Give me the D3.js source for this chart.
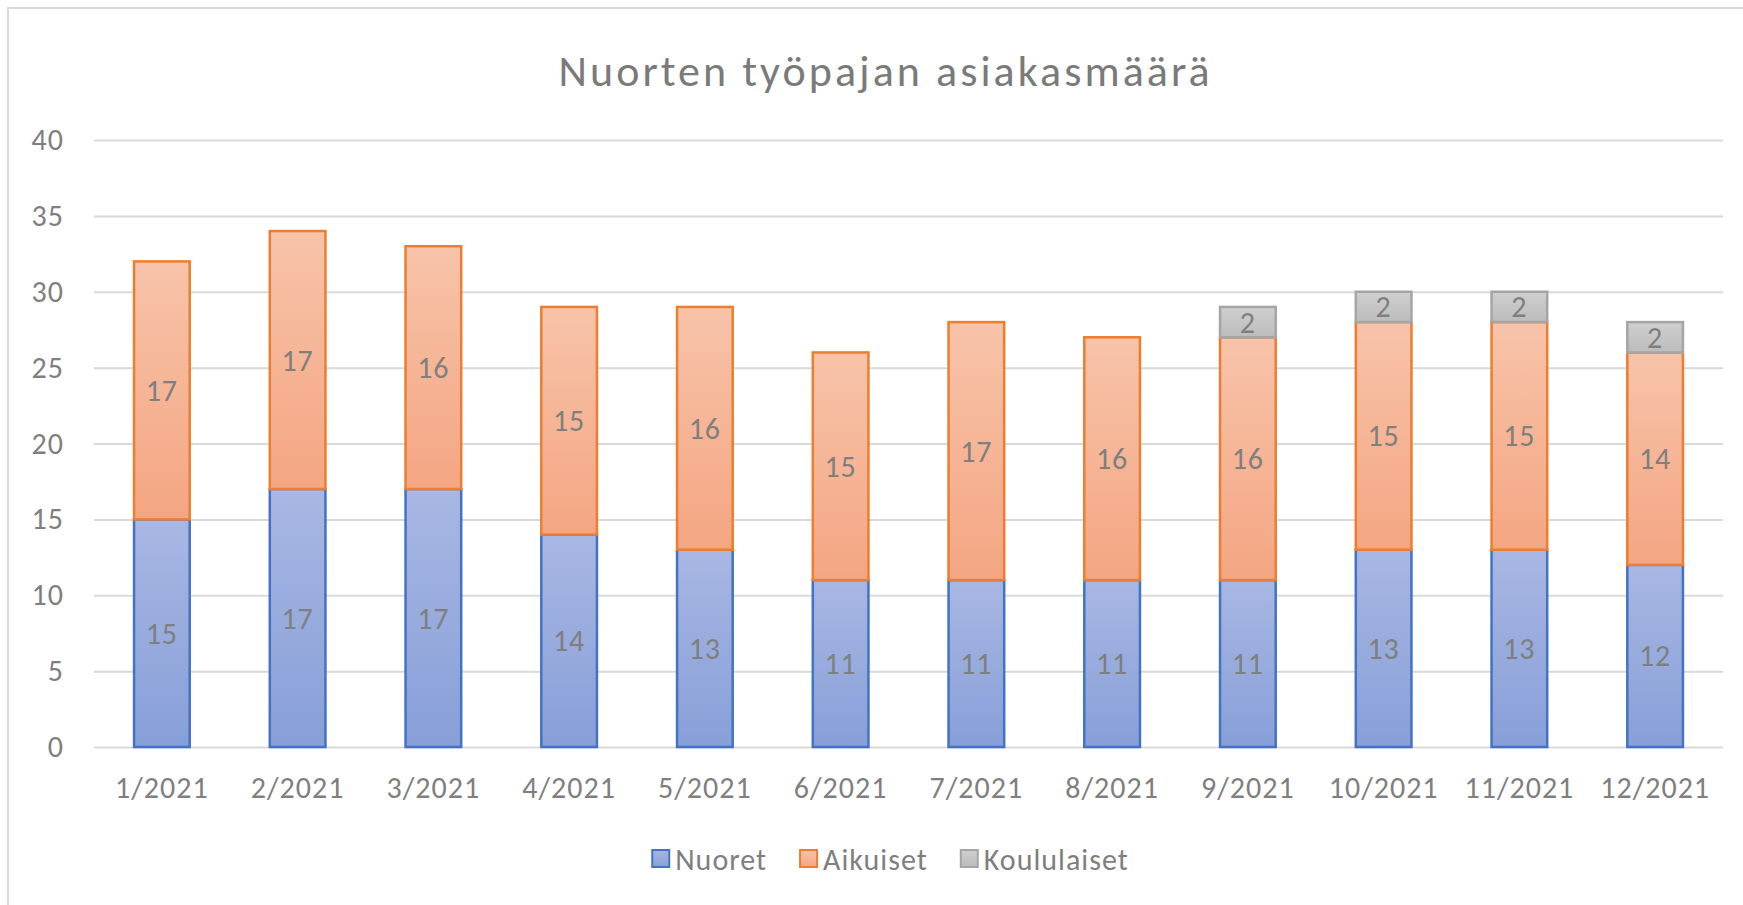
<!DOCTYPE html>
<html>
<head>
<meta charset="utf-8">
<script src="https://d3js.org/d3.v7.min.js"></script>
<style>
  body { margin: 0; background: #fff; }
  svg text { font-family: Calibri, Carlito, Lato, sans-serif; fill: #7f7f7f; }
</style>
</head>
<body>
<div id="chart"></div>
<script>
var months = ["1/2021", "2/2021", "3/2021", "4/2021", "5/2021", "6/2021",
              "7/2021", "8/2021", "9/2021", "10/2021", "11/2021", "12/2021"]
var nuoret = [15, 17, 17, 14, 13, 11, 11, 11, 11, 13, 13, 12]
var aikuiset = [17, 17, 16, 15, 16, 15, 17, 16, 16, 15, 15, 14]
var koululaiset = [0, 0, 0, 0, 0, 0, 0, 0, 2, 2, 2, 2]
var seriesNames = ["Nuoret", "Aikuiset", "Koululaiset"]
var yTicks = [0, 5, 10, 15, 20, 25, 30, 35, 40]
var title = "Nuorten työpajan asiakasmäärä"

var width = 1743, height = 905
// plot area edges (named so they do not clash with window.top)
var plotL = 94, plotR = 1723, plotT = 140, plotB = 747
var fontSize = "30px", spacing = "1px"

var styles = [
  { stroke: "#4472c4", top: "#a9b7e3", bot: "#879fd8" },
  { stroke: "#ed7d31", top: "#f7c3a9", bot: "#f4a682" },
  { stroke: "#a5a5a5", top: "#cfcfcf", bot: "#bcbcbc" }
]

var svg = d3.select("#chart").append("svg")
  .attr("width", width)
  .attr("height", height)

// gradients
var defs = svg.append("defs")
styles.forEach(function(s, i) {
  var g = defs.append("linearGradient")
    .attr("id", "grad" + i)
    .attr("x1", 0).attr("y1", 0).attr("x2", 0).attr("y2", 1)
  g.append("stop").attr("offset", "0%").attr("stop-color", s.top)
  g.append("stop").attr("offset", "100%").attr("stop-color", s.bot)
})

// chart frame (right and bottom run off the picture)
svg.append("path")
  .attr("d", "M8,940 L8,8 L1760,8")
  .attr("fill", "none")
  .attr("stroke", "#d9d9d9")
  .attr("stroke-width", 2)

var x = d3.scaleBand().domain(months).range([plotL, plotR]).paddingInner(0.59).paddingOuter(0.295)
var y = d3.scaleLinear().domain([0, 40]).range([plotB, plotT])

// title
var t = svg.append("text")
  .attr("x", 884)
  .attr("y", 86)
  .attr("text-anchor", "middle")
  .style("font-size", "44px")
  .style("fill", "#7a7a7a")
  .text(title)
var tw = t.node().getComputedTextLength()
var ls = Math.max(0, (651 - tw) / (title.length - 1))
t.style("letter-spacing", ls + "px").attr("x", 884 + ls / 2)

// y axis with gridlines
var yAxis = svg.append("g")
  .attr("transform", "translate(" + plotL + ",0)")
  .call(d3.axisLeft(y).tickValues(yTicks).tickSize(-(plotR - plotL)).tickPadding(30))
yAxis.select(".domain").remove()
yAxis.selectAll("line").attr("stroke", "#d9d9d9").attr("stroke-width", 2)
yAxis.selectAll("text").style("font-size", fontSize).style("letter-spacing", spacing).attr("fill", "#7f7f7f")

// stacked data
var rows = months.map(function(m, i) {
  return { month: m, Nuoret: nuoret[i], Aikuiset: aikuiset[i], Koululaiset: koululaiset[i] }
})
var stack = d3.stack().keys(seriesNames)(rows)

var layers = svg.selectAll(".layer")
  .data(stack)
  .enter().append("g")
  .attr("class", "layer")

layers.each(function(layer, si) {
  var g = d3.select(this)
  var pts = layer.filter(function(d) { return d[1] - d[0] > 0 })
  g.selectAll("rect")
    .data(pts)
    .enter().append("rect")
    .attr("x", function(d) { return x(d.data.month) })
    .attr("width", x.bandwidth())
    .attr("y", function(d) { return y(d[1]) })
    .attr("height", function(d) { return y(d[0]) - y(d[1]) })
    .attr("fill", "url(#grad" + si + ")")
    .attr("stroke", styles[si].stroke)
    .attr("stroke-width", 2.5)
  g.selectAll("text")
    .data(pts)
    .enter().append("text")
    .attr("x", function(d) { return x(d.data.month) + x.bandwidth() / 2 })
    .attr("y", function(d) { return y((d[0] + d[1]) / 2) })
    .attr("dy", "0.35em")
    .attr("text-anchor", "middle")
    .style("font-size", fontSize)
    .style("letter-spacing", spacing)
    .text(function(d) { return d[1] - d[0] })
})

// x axis
var xAxis = svg.append("g")
  .attr("transform", "translate(0," + plotB + ")")
  .call(d3.axisBottom(x).tickSize(0))
xAxis.select(".domain").remove()
xAxis.selectAll("text")
  .style("font-size", fontSize)
  .style("letter-spacing", spacing)
  .attr("fill", "#7f7f7f")
  .attr("dy", "0.35em")
  .attr("y", 40)

// legend
var legend = svg.append("g")
var lx = 0
seriesNames.forEach(function(name, i) {
  var item = legend.append("g").attr("transform", "translate(" + lx + ",0)")
  item.append("rect")
    .attr("x", 1).attr("y", -9).attr("width", 17).attr("height", 17)
    .attr("fill", "url(#grad" + i + ")")
    .attr("stroke", styles[i].stroke)
    .attr("stroke-width", 2)
  var tx = item.append("text")
    .attr("x", 24).attr("y", 0).attr("dy", "0.35em")
    .style("font-size", fontSize)
    .style("letter-spacing", spacing)
    .text(name)
  lx += 24 + tx.node().getComputedTextLength() + 32
})
lx -= 32
legend.attr("transform", "translate(" + (890 - lx / 2) + ",859)")
</script>
</body>
</html>
